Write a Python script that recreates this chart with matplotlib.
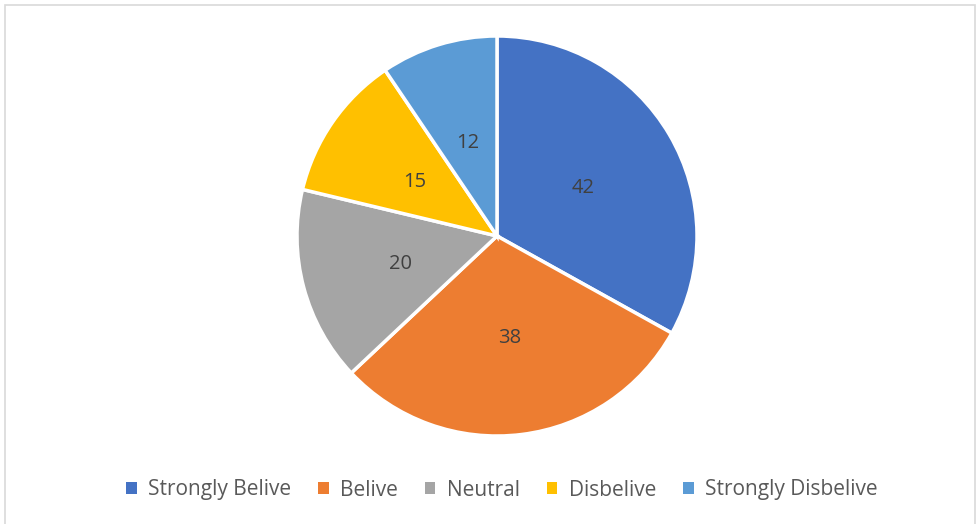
import matplotlib
matplotlib.use("Agg")
import matplotlib.pyplot as plt
from matplotlib.patches import Rectangle, Patch

categories = ["Strongly Belive", "Belive", "Neutral", "Disbelive", "Strongly Disbelive"]
values = [42, 38, 20, 15, 12]
colors = ["#4472C4", "#ED7D31", "#A5A5A5", "#FFC000", "#5B9BD5"]

plt.rcParams['font.family'] = ['Open Sans', 'DejaVu Sans']

W, H = 976, 524
fig = plt.figure(figsize=(W/100, H/100), dpi=100)

# chart border
fig.patches.append(Rectangle((5/W, -0.05), 970/W, (H-5)/H + 0.05, transform=fig.transFigure,
                             fill=False, edgecolor="#D9D9D9", linewidth=1.2))

ax = fig.add_axes([297/W, (H-436)/H, 400/W, 400/H])
wedges, texts = ax.pie(values, colors=colors, startangle=90, counterclock=False,
                       labels=[str(v) for v in values], labeldistance=0.5,
                       wedgeprops=dict(edgecolor="white", linewidth=2.5))
for t in texts:
    t.set_color("#404040")
    t.set_fontsize(14.5)
    t.set_ha("center")
    t.set_va("center_baseline")
ax.set_aspect("equal")
ax.set_xlim(-1, 1)
ax.set_ylim(-1, 1)

handles = [Patch(facecolor=c, edgecolor="none") for c in colors]
fig.legend(handles, categories, loc="center", bbox_to_anchor=(502/W, (H-490)/H), ncol=5,
           frameon=False, fontsize=15, labelcolor="#595959", handlelength=0.5, handleheight=0.5,
           handletextpad=0.55, columnspacing=1.3)

fig.savefig("out.png", dpi=100)
